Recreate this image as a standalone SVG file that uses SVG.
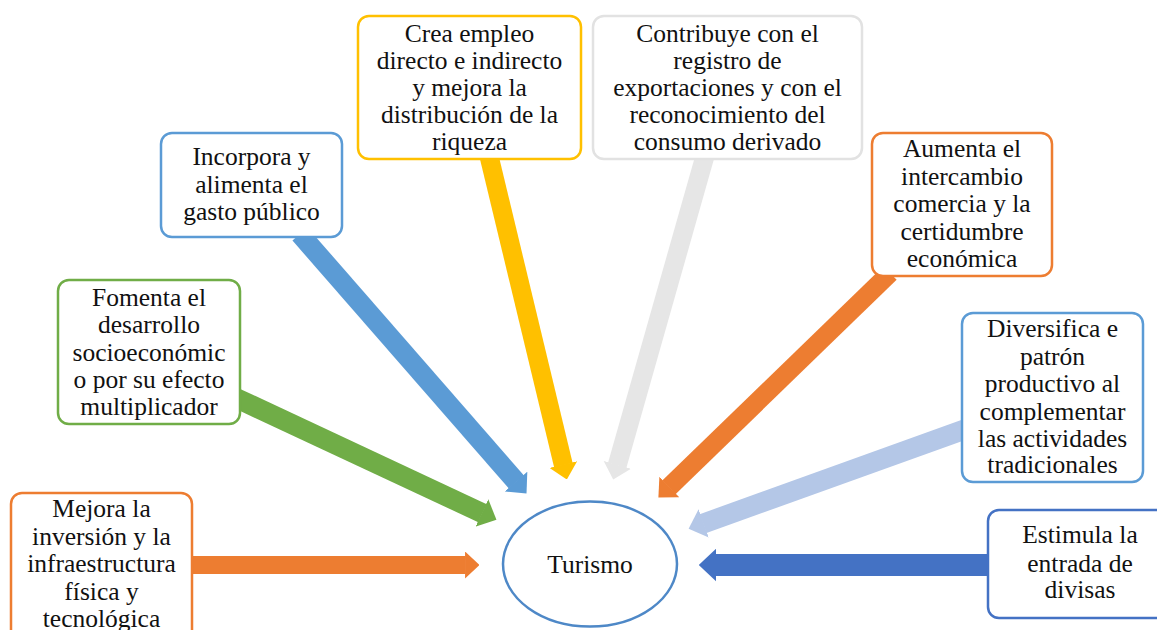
<svg xmlns="http://www.w3.org/2000/svg" width="1157" height="630" viewBox="0 0 1157 630" font-family="'Liberation Serif', 'DejaVu Serif', serif">
<style>
.box{fill:#fff;stroke-width:2.5}
.t{font-size:25.5px;fill:#111;text-anchor:middle}
.c{fill:none;stroke-linecap:butt}
</style>
<defs>
<marker id="hOr" viewBox="0 0 8 15" markerWidth="0.8" markerHeight="1.5" refX="0.3" refY="7.5" orient="auto"><path d="M0,0L8,7.5L0,15z" fill="#ED7D31"/></marker>
<marker id="hGr" viewBox="0 0 8 15" markerWidth="0.8" markerHeight="1.5" refX="0.3" refY="7.5" orient="auto"><path d="M0,0L8,7.5L0,15z" fill="#70AD47"/></marker>
<marker id="hBl" viewBox="0 0 8 15" markerWidth="0.8" markerHeight="1.5" refX="0.3" refY="7.5" orient="auto"><path d="M0,0L8,7.5L0,15z" fill="#5B9BD5"/></marker>
<marker id="hYe" viewBox="0 0 8 15" markerWidth="0.8" markerHeight="1.5" refX="0.3" refY="7.5" orient="auto"><path d="M0,0L8,7.5L0,15z" fill="#FFC000"/></marker>
<marker id="hGy" viewBox="0 0 8 15" markerWidth="0.8" markerHeight="1.5" refX="0.3" refY="7.5" orient="auto"><path d="M0,0L8,7.5L0,15z" fill="#E6E6E6"/></marker>
<marker id="hLb" viewBox="0 0 8 15" markerWidth="0.8" markerHeight="1.5" refX="0.3" refY="7.5" orient="auto"><path d="M0,0L8,7.5L0,15z" fill="#B4C7E7"/></marker>
<marker id="hDb" viewBox="0 0 8 15" markerWidth="0.8" markerHeight="1.5" refX="0.3" refY="7.5" orient="auto"><path d="M0,0L8,7.5L0,15z" fill="#4472C4"/></marker>
</defs>
<g id="connectors">
<line class="c" x1="190" y1="565" x2="465.6" y2="565" stroke="#ED7D31" stroke-width="18" marker-end="url(#hOr)"/>
<line class="c" x1="236" y1="398" x2="482.5" y2="513.2" stroke="#70AD47" stroke-width="20" marker-end="url(#hGr)"/>
<line class="c" x1="300" y1="234" x2="516.4" y2="482" stroke="#5B9BD5" stroke-width="20" marker-end="url(#hBl)"/>
<line class="c" x1="489" y1="156" x2="563.4" y2="465.2" stroke="#FFC000" stroke-width="19" marker-end="url(#hYe)"/>
<line class="c" x1="705" y1="156" x2="617.2" y2="465.4" stroke="#E6E6E6" stroke-width="19" marker-end="url(#hGy)"/>
<line class="c" x1="890" y1="273" x2="668.9" y2="487.4" stroke="#ED7D31" stroke-width="19" marker-end="url(#hOr)"/>
<line class="c" x1="966" y1="429" x2="703.1" y2="523.6" stroke="#B4C7E7" stroke-width="20" marker-end="url(#hLb)"/>
<line class="c" x1="994" y1="565" x2="715.6" y2="565" stroke="#4472C4" stroke-width="22" marker-end="url(#hDb)"/>
</g>
<g id="n-turismo">
<ellipse cx="590" cy="564" rx="87" ry="62.5" fill="#fff" stroke="#4E88C7" stroke-width="2.5"/>
<text class="t" x="590" y="573">Turismo</text>
</g>
<g id="n-mejora">
<rect class="box" x="11" y="493" width="181" height="150" rx="11" stroke="#ED7D31"/>
<text class="t" x="101.5" y="517">Mejora la</text>
<text class="t" x="101.5" y="545">inversión y la</text>
<text class="t" x="101.5" y="572">infraestructura</text>
<text class="t" x="101.5" y="600">física y</text>
<text class="t" x="101.5" y="627">tecnológica</text>
</g>
<g id="n-fomenta">
<rect class="box" x="58" y="280" width="182" height="144" rx="11" stroke="#70AD47"/>
<text class="t" x="149" y="306">Fomenta el</text>
<text class="t" x="149" y="333">desarrollo</text>
<text class="t" x="149" y="361">socioeconómic</text>
<text class="t" x="149" y="388">o por su efecto</text>
<text class="t" x="149" y="415">multiplicador</text>
</g>
<g id="n-incorpora">
<rect class="box" x="161" y="133" width="181" height="104" rx="11" stroke="#5B9BD5"/>
<text class="t" x="251.5" y="165">Incorpora y</text>
<text class="t" x="251.5" y="193">alimenta el</text>
<text class="t" x="251.5" y="220">gasto público</text>
</g>
<g id="n-crea">
<rect class="box" x="358" y="16" width="223" height="143" rx="11" stroke="#FFC000"/>
<text class="t" x="469.5" y="42">Crea empleo</text>
<text class="t" x="469.5" y="69">directo e indirecto</text>
<text class="t" x="469.5" y="96">y mejora la</text>
<text class="t" x="469.5" y="123">distribución de la</text>
<text class="t" x="469.5" y="150">riqueza</text>
</g>
<g id="n-contribuye">
<rect class="box" x="593" y="16" width="269" height="143" rx="11" stroke="#E2E2E2"/>
<text class="t" x="727.5" y="42">Contribuye con el</text>
<text class="t" x="727.5" y="69">registro de</text>
<text class="t" x="727.5" y="96">exportaciones y con el</text>
<text class="t" x="727.5" y="123">reconocimiento del</text>
<text class="t" x="727.5" y="150">consumo derivado</text>
</g>
<g id="n-aumenta">
<rect class="box" x="872" y="133" width="180" height="143" rx="11" stroke="#ED7D31"/>
<text class="t" x="962" y="157">Aumenta el</text>
<text class="t" x="962" y="185">intercambio</text>
<text class="t" x="962" y="212">comercia y la</text>
<text class="t" x="962" y="240">certidumbre</text>
<text class="t" x="962" y="267">económica</text>
</g>
<g id="n-diversifica">
<rect class="box" x="962" y="313" width="181" height="169" rx="11" stroke="#5B9BD5"/>
<text class="t" x="1052.5" y="337">Diversifica e</text>
<text class="t" x="1052.5" y="365">patrón</text>
<text class="t" x="1052.5" y="392">productivo al</text>
<text class="t" x="1052.5" y="420">complementar</text>
<text class="t" x="1052.5" y="447">las actividades</text>
<text class="t" x="1052.5" y="473">tradicionales</text>
</g>
<g id="n-estimula">
<rect class="box" x="988" y="510" width="184" height="108" rx="11" stroke="#4472C4"/>
<text class="t" x="1080" y="543">Estimula la</text>
<text class="t" x="1080" y="572">entrada de</text>
<text class="t" x="1080" y="598">divisas</text>
</g>
</svg>
